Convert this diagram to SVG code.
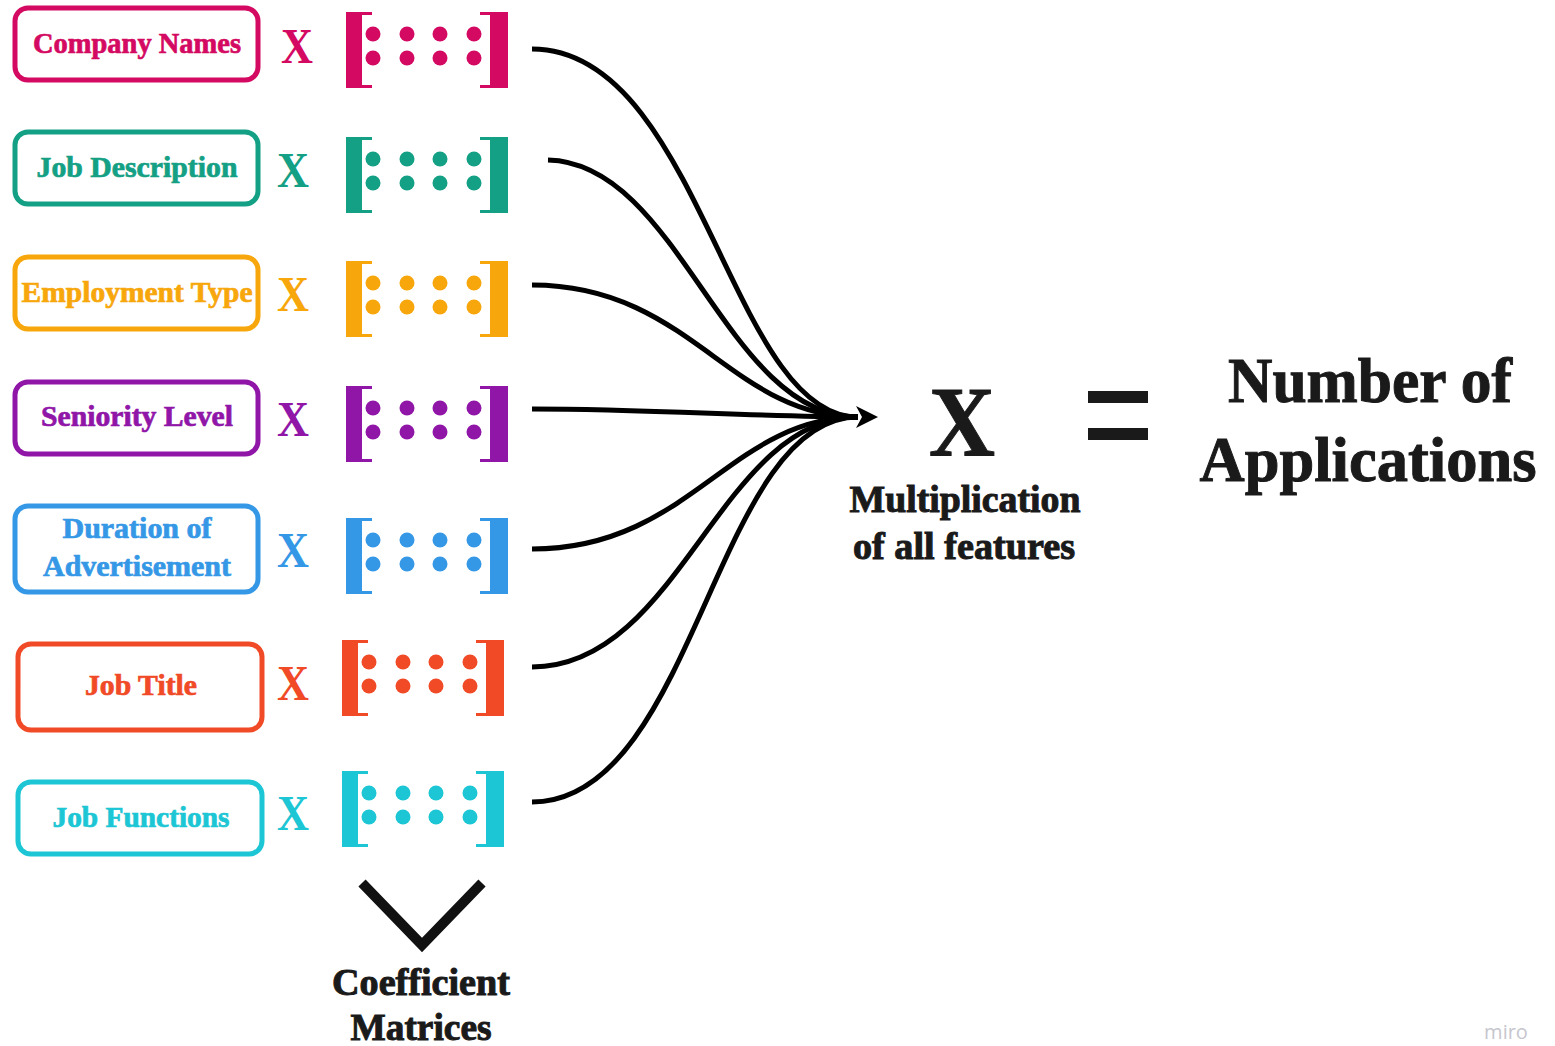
<svg xmlns="http://www.w3.org/2000/svg" width="1555" height="1046" viewBox="0 0 1555 1046">
<style>
.box{fill:#fff;stroke-width:5}
.lbl{font-family:"Liberation Serif","DejaVu Serif",serif;font-weight:bold;font-size:29px;text-anchor:middle;stroke:currentColor;stroke-width:0.7}
.x{font-family:"Liberation Serif","DejaVu Serif",serif;font-weight:bold;font-size:50px;text-anchor:middle}
.big{font-family:"Liberation Serif","DejaVu Serif",serif;font-weight:bold;fill:#1a1a1a;stroke:#1a1a1a;stroke-width:1;text-anchor:middle}
.conn{fill:none;stroke:#000;stroke-width:5}
</style>
<defs>
<g id="mat">
<rect x="0" y="0" width="16" height="76"/>
<rect x="16" y="0" width="10" height="3"/>
<rect x="16" y="73" width="10" height="3"/>
<rect x="144" y="0" width="18" height="76"/>
<rect x="134" y="0" width="10" height="3"/>
<rect x="134" y="73" width="10" height="3"/>
<circle cx="27" cy="22" r="7.5"/><circle cx="61" cy="22" r="7.5"/><circle cx="94" cy="22" r="7.5"/><circle cx="128" cy="22" r="7.5"/>
<circle cx="27" cy="46" r="7.5"/><circle cx="61" cy="46" r="7.5"/><circle cx="94" cy="46" r="7.5"/><circle cx="128" cy="46" r="7.5"/>
</g>
<marker id="arr" viewBox="0 0 22 22" refX="2" refY="11" markerWidth="22" markerHeight="22" markerUnits="userSpaceOnUse" orient="auto">
<path d="M0,0 L22,11 L0,22 L6,11 Z" fill="#000"/>
</marker>
</defs>
<rect width="1555" height="1046" fill="#fff"/>

<g id="company-names" style="color:#d40a62">
<rect class="box" x="15" y="8" width="243" height="72" rx="13" stroke="currentColor"/>
<text class="lbl" x="137" y="53" fill="currentColor" textLength="208" lengthAdjust="spacingAndGlyphs">Company Names</text>
<text class="x" x="297" y="63" fill="currentColor" textLength="32" lengthAdjust="spacingAndGlyphs">X</text>
<use href="#mat" x="346" y="12" fill="currentColor"/>
</g>

<g id="job-description" style="color:#14a084">
<rect class="box" x="15" y="132" width="243" height="72" rx="13" stroke="currentColor"/>
<text class="lbl" x="137" y="177" fill="currentColor" textLength="201" lengthAdjust="spacingAndGlyphs">Job Description</text>
<text class="x" x="293" y="187" fill="currentColor" textLength="32" lengthAdjust="spacingAndGlyphs">X</text>
<use href="#mat" x="346" y="137" fill="currentColor"/>
</g>

<g id="employment-type" style="color:#f7a70b">
<rect class="box" x="15" y="257" width="243" height="72" rx="13" stroke="currentColor"/>
<text class="lbl" x="137" y="302" fill="currentColor" textLength="231" lengthAdjust="spacingAndGlyphs">Employment Type</text>
<text class="x" x="293" y="311" fill="currentColor" textLength="32" lengthAdjust="spacingAndGlyphs">X</text>
<use href="#mat" x="346" y="261" fill="currentColor"/>
</g>

<g id="seniority-level" style="color:#9016a8">
<rect class="box" x="15" y="382" width="243" height="72" rx="13" stroke="currentColor"/>
<text class="lbl" x="137" y="426" fill="currentColor" textLength="192" lengthAdjust="spacingAndGlyphs">Seniority Level</text>
<text class="x" x="293" y="436" fill="currentColor" textLength="32" lengthAdjust="spacingAndGlyphs">X</text>
<use href="#mat" x="346" y="386" fill="currentColor"/>
</g>

<g id="duration-of-advertisement" style="color:#3598e6">
<rect class="box" x="15" y="506" width="243" height="86" rx="13" stroke="currentColor"/>
<text class="lbl" x="137" y="538" fill="currentColor" textLength="149" lengthAdjust="spacingAndGlyphs">Duration of</text>
<text class="lbl" x="137" y="576" fill="currentColor" textLength="188" lengthAdjust="spacingAndGlyphs">Advertisement</text>
<text class="x" x="293" y="567" fill="currentColor" textLength="32" lengthAdjust="spacingAndGlyphs">X</text>
<use href="#mat" x="346" y="518" fill="currentColor"/>
</g>

<g id="job-title" style="color:#f04a27">
<rect class="box" x="18" y="644" width="244" height="86" rx="13" stroke="currentColor"/>
<text class="lbl" x="141" y="695" fill="currentColor" textLength="112" lengthAdjust="spacingAndGlyphs">Job Title</text>
<text class="x" x="293" y="700" fill="currentColor" textLength="32" lengthAdjust="spacingAndGlyphs">X</text>
<use href="#mat" x="342" y="640" fill="currentColor"/>
</g>

<g id="job-functions" style="color:#1cc6d4">
<rect class="box" x="18" y="782" width="244" height="72" rx="13" stroke="currentColor"/>
<text class="lbl" x="141" y="827" fill="currentColor" textLength="177" lengthAdjust="spacingAndGlyphs">Job Functions</text>
<text class="x" x="293" y="830" fill="currentColor" textLength="32" lengthAdjust="spacingAndGlyphs">X</text>
<use href="#mat" x="342" y="771" fill="currentColor"/>
</g>

<g id="connectors">
<path class="conn" d="M532,49 C700,49 730,417 858,417" marker-end="url(#arr)"/>
<path class="conn" d="M548,160 C680,163 725,417 858,417"/>
<path class="conn" d="M532,285 C690,285 730,417 858,417"/>
<path class="conn" d="M532,409 C650,409 760,417 858,417"/>
<path class="conn" d="M532,549 C690,549 730,417 858,417"/>
<path class="conn" d="M532,667 C680,667 720,417 858,417"/>
<path class="conn" d="M532,802 C695,802 715,417 858,417"/>
</g>

<g id="multiplication">
<text class="big" x="962" y="455" font-size="100" textLength="66" lengthAdjust="spacingAndGlyphs">X</text>
<text class="big" x="965" y="512" font-size="38" textLength="231" lengthAdjust="spacingAndGlyphs">Multiplication</text>
<text class="big" x="964" y="559" font-size="38" textLength="222" lengthAdjust="spacingAndGlyphs">of all features</text>
</g>

<g id="equals" fill="#1a1a1a">
<rect x="1088" y="391" width="60" height="12"/>
<rect x="1088" y="428" width="60" height="12"/>
</g>

<g id="number-of-applications">
<text class="big" x="1370" y="402" font-size="64" textLength="284" lengthAdjust="spacingAndGlyphs">Number of</text>
<text class="big" x="1368" y="481" font-size="64" textLength="337" lengthAdjust="spacingAndGlyphs">Applications</text>
</g>

<g id="coefficient-matrices">
<polyline points="362,883 422,945 482,883" fill="none" stroke="#111" stroke-width="10"/>
<text class="big" x="421" y="995" font-size="38" textLength="178" lengthAdjust="spacingAndGlyphs">Coefficient</text>
<text class="big" x="421" y="1040" font-size="38" textLength="141" lengthAdjust="spacingAndGlyphs">Matrices</text>
</g>

<text x="1506" y="1039" font-family="'Open Sans','DejaVu Sans',sans-serif" font-size="20" fill="#c6c6ce" text-anchor="middle">miro</text>
</svg>
